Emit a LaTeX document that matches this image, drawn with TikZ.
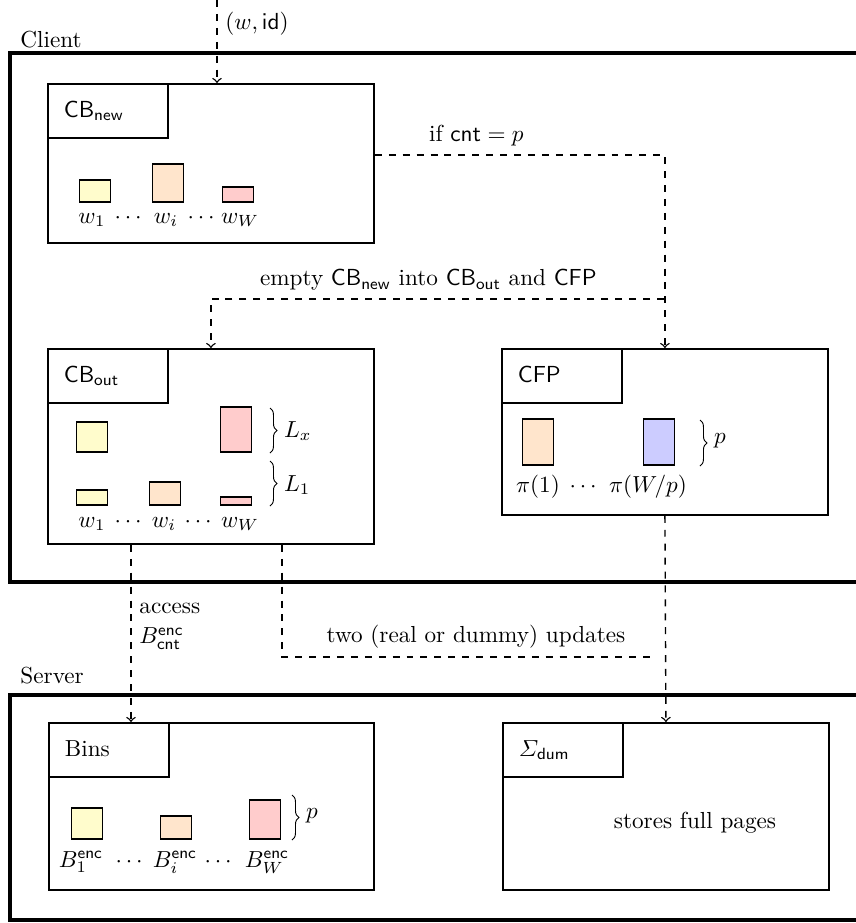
\documentclass[tikz,border=0pt]{standalone}
\usepackage{amsmath}
\usepackage{tikz}
\usetikzlibrary{decorations.pathreplacing}
\newcommand{\pxl}{0.431pt}
\tikzstyle{outer}=[draw=black,ultra thick]
\tikzstyle{panel}=[draw=black,thick,anchor=north west,inner sep=0pt]
\tikzstyle{tab}=[draw=black,thick,anchor=north west,align=left,
                 text width=38pt,inner xsep=6.9pt,minimum height=23.3pt,
                 text height=1.6ex,text depth=.3ex]
\tikzstyle{page}=[draw=black,thick,anchor=south,inner sep=0pt,
                  minimum width=13.4pt]
\tikzstyle{ypage}=[page,fill=yellow!20]
\tikzstyle{opage}=[page,fill=orange!20]
\tikzstyle{rpage}=[page,fill=red!20]
\tikzstyle{bpage}=[page,fill=blue!20]
\tikzstyle{lbl}=[anchor=base,inner sep=0pt]
\tikzstyle{flow}=[dashed,semithick,->]
\tikzstyle{brc}=[decorate,decoration={brace,amplitude=3pt}]

\begin{document}
\begin{tikzpicture}[x=\pxl,y=-\pxl]
  \useasboundingbox (0,0) rectangle (856,923);

  % client side
  \draw[outer] (10,53) rectangle (900,582);
  \node[anchor=base west,inner sep=0pt] (client) at (20,47) {Client};

  \node[panel,minimum width=326*\pxl,minimum height=159*\pxl] (cbnew) at (47,83) {};
  \node[tab] (cbnewtab) at (cbnew.north west) {$\mathsf{CB}_{\mathsf{new}}$};
  \node[ypage,minimum height=22*\pxl] (n1) at (95,203) {};
  \node[opage,minimum height=38*\pxl] (ni) at (168,203) {};
  \node[rpage,minimum height=15*\pxl] (nw) at (238,203) {};
  \node[lbl] (ln1) at (92,223) {$w_1$};
  \node[lbl] (lnd1) at (130,223) {$\cdots$};
  \node[lbl] (lni) at (166,223) {$w_i$};
  \node[lbl] (lnd2) at (203,223) {$\cdots$};
  \node[lbl] (lnw) at (240,223) {$w_W$};

  \node[panel,minimum width=326*\pxl,minimum height=195*\pxl] (cbout) at (47,348) {};
  \node[tab] (cbouttab) at (cbout.north west) {$\mathsf{CB}_{\mathsf{out}}$};
  \node[ypage,minimum height=30*\pxl] (ox1) at (92,453) {};
  \node[rpage,minimum height=45*\pxl] (oxw) at (236,453) {};
  \node[ypage,minimum height=15*\pxl] (o1) at (92,506) {};
  \node[opage,minimum height=23*\pxl] (oi) at (165,506) {};
  \node[rpage,minimum height=8*\pxl] (ow) at (236,506) {};
  \draw[brc] (270,408) -- (270,453);
  \draw[brc] (270,461) -- (270,506);
  \node[anchor=west] (llx) at (276,431) {$L_x$};
  \node[anchor=west] (ll1) at (276,485) {$L_1$};
  \node[lbl] (lo1) at (92,527) {$w_1$};
  \node[lbl] (lod1) at (130,527) {$\cdots$};
  \node[lbl] (loi) at (164,527) {$w_i$};
  \node[lbl] (lod2) at (200,527) {$\cdots$};
  \node[lbl] (low) at (240,527) {$w_W$};

  \node[panel,minimum width=326*\pxl,minimum height=166*\pxl] (cfp) at (501,348) {};
  \node[tab] (cfptab) at (cfp.north west) {$\mathsf{CFP}$};
  \node[opage,minimum height=46*\pxl] (f1) at (538,466) {};
  \node[bpage,minimum height=46*\pxl] (fw) at (659,466) {};
  \draw[brc] (700,420) -- (700,466);
  \node[anchor=west] (lfp) at (706,441) {$p$};
  \node[lbl] (lf1) at (538,492) {$\pi(1)$};
  \node[lbl] (lfd) at (585,492) {$\cdots$};
  \node[lbl] (lfw) at (648,492) {$\pi(W/p)$};

  % server side
  \draw[outer] (10,695) rectangle (900,920);
  \node[anchor=base west,inner sep=0pt] (server) at (20,683) {Server};

  \node[panel,minimum width=325*\pxl,minimum height=167*\pxl] (bins) at (48,722) {};
  \node[tab] (binstab) at (bins.north west) {Bins};
  \node[ypage,minimum height=31*\pxl] (b1) at (87,840) {};
  \node[opage,minimum height=23*\pxl] (bi) at (176,840) {};
  \node[rpage,minimum height=39*\pxl] (bw) at (265,840) {};
  \draw[brc] (292,795) -- (292,840);
  \node[anchor=west] (lbp) at (298,816) {$p$};
  \node[lbl] (lb1) at (81,867) {$B^{\mathsf{enc}}_1$};
  \node[lbl] (lbd1) at (131,867) {$\cdots$};
  \node[lbl] (lbi) at (175,867) {$B^{\mathsf{enc}}_i$};
  \node[lbl] (lbd2) at (220,867) {$\cdots$};
  \node[lbl] (lbw) at (267,867) {$B^{\mathsf{enc}}_W$};

  \node[panel,minimum width=326*\pxl,minimum height=167*\pxl] (dum) at (502,722) {};
  \node[tab] (dumtab) at (dum.north west) {$\varSigma_{\mathsf{dum}}$};
  \node (store) at (695,823) {stores full pages};

  % flows
  \coordinate (src) at (217,0);
  \draw[flow] (src) -- node[pos=0.28,right] {$(w,\mathsf{id})$} (src |- cbnew.north);
  \draw[flow] ([yshift=8.5*\pxl]cbnew.east) -| node[pos=0.175,above] {if $\mathsf{cnt}=p$} (cfp.north);
  \coordinate (split) at (664,299);
  \draw[flow] (split) -| node[pos=0.26,above]
    {empty $\mathsf{CB}_{\mathsf{new}}$ into $\mathsf{CB}_{\mathsf{out}}$ and $\mathsf{CFP}$} (cbout.north);
  \coordinate (acc) at ([xshift=84*\pxl]cbout.south west);
  \draw[flow] (acc) -- node[pos=0.46,right,align=left] {access\\[1pt]$B^{\mathsf{enc}}_{\mathsf{cnt}}$} (acc |- bins.north);
  \coordinate (upd) at ([xshift=235*\pxl]cbout.south west);
  \coordinate (updend) at (655,657);
  \draw[dashed,semithick] (upd) |- node[pos=0.76,above] {two (real or dummy) updates} (updend);
  \draw[flow] (cfp.south) -- (dum.north);
\end{tikzpicture}
\end{document}
